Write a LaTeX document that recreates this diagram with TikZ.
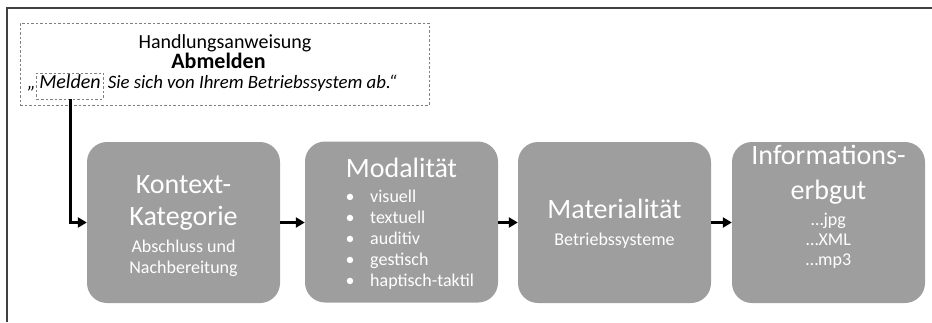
\documentclass[tikz,border=0pt]{standalone}
\usepackage{fontspec}
\setmainfont{Carlito}
\usetikzlibrary{arrows.meta}
\definecolor{boxgray}{HTML}{9E9E9E}
\definecolor{frame}{HTML}{404040}
\definecolor{dashgray}{HTML}{808080}
\tikzset{
  stagebox/.style={draw=none, fill=boxgray, rounded corners=20pt, minimum width=193pt, minimum height=161pt, inner sep=0pt},
  title/.style={text=white, font=\fontsize{28}{34}\selectfont, anchor=base, inner sep=0pt},
  sub/.style={text=white, font=\fontsize{18}{21}\selectfont, anchor=base, inner sep=0pt},
  bul/.style={text=white, font=\fontsize{18}{21}\selectfont, anchor=base west, inner sep=0pt},
  instrtext/.style={font=\fontsize{20}{24}\selectfont, anchor=base, inner sep=0pt},
  dashbox/.style={draw=dashgray, line width=0.8pt, dash pattern=on 2.5pt off 2pt},
  arr/.style={line width=3pt, -{Triangle[length=9pt,width=10pt]}},
}
\begin{document}
\begin{tikzpicture}[x=1pt,y=-1pt]
\useasboundingbox (0,0) rectangle (932,322);
% frame
\draw[frame, line width=1.8pt] (7,322) -- (7,8) -- (932,8);
% instruction box
\node[dashbox, minimum width=409pt, minimum height=82pt, inner sep=0pt] (instr) at (224.5,64) {};
\node[instrtext] (h1) at (225,48) {Handlungsanweisung};
\node[instrtext, font=\fontsize{22}{24}\selectfont\bfseries] (h2) at (218.5,68) {Abmelden};
\node[dashbox, font=\fontsize{20}{24}\selectfont\itshape, anchor=base, inner xsep=2.5pt, inner ysep=3pt, text height=12pt, text depth=8pt] (mel) at (70,88) {Melden};
\node[instrtext, font=\fontsize{20}{24}\selectfont\itshape, anchor=base east] (q) at ([xshift=-0.5pt]mel.base west) {„};
\node[instrtext, font=\fontsize{18.8}{24}\selectfont\itshape, anchor=base west] (rest) at ([xshift=4pt]mel.base east) {Sie sich von Ihrem Betriebssystem ab.“};
% stage boxes
\node[stagebox] (k) at (183.5,222.5) {};
\node[stagebox] (m) at (401.5,222) {};
\node[stagebox] (ma) at (614.5,222.5) {};
\node[stagebox] (inf) at (828.5,222.5) {};
% box 1
\node[title] (k1) at (183.5,193) {Kontext-};
\node[title] (k2) at (183.5,225) {Kategorie};
\node[sub] (k3) at (183.5,252) {Abschluss und};
\node[sub] (k4) at (183.5,273) {Nachbereitung};
% box 2
\node[title] (m1) at (401.5,177) {Modalität};
\foreach \y/\t [count=\i] in {202/visuell,223/textuell,244/auditiv,265/gestisch,286/haptisch-taktil}{
  \node[bul, anchor=base] (mb\i) at (350,\y) {•};
  \node[bul] (mt\i) at (370,\y) {\t};
}
% box 3
\node[title] (ma1) at (614.5,218) {Materialität};
\node[sub] (ma2) at (614.5,245) {Betriebssysteme};
% box 4
\node[title] (i1) at (828.5,164) {Informations-};
\node[title] (i2) at (828.5,199) {erbgut};
\node[sub] (i3) at (828.5,225) {…jpg};
\node[sub] (i4) at (828.5,245) {…XML};
\node[sub] (i5) at (828.5,265) {…mp3};
% connectors
\draw[arr] (mel.south) |- (k.west);
\draw[arr] (k.east) -- (m.west |- k.east);
\draw[arr] (m.east |- ma.west) -- (ma.west);
\draw[arr] (ma.east) -- (inf.west);
\end{tikzpicture}
\end{document}
